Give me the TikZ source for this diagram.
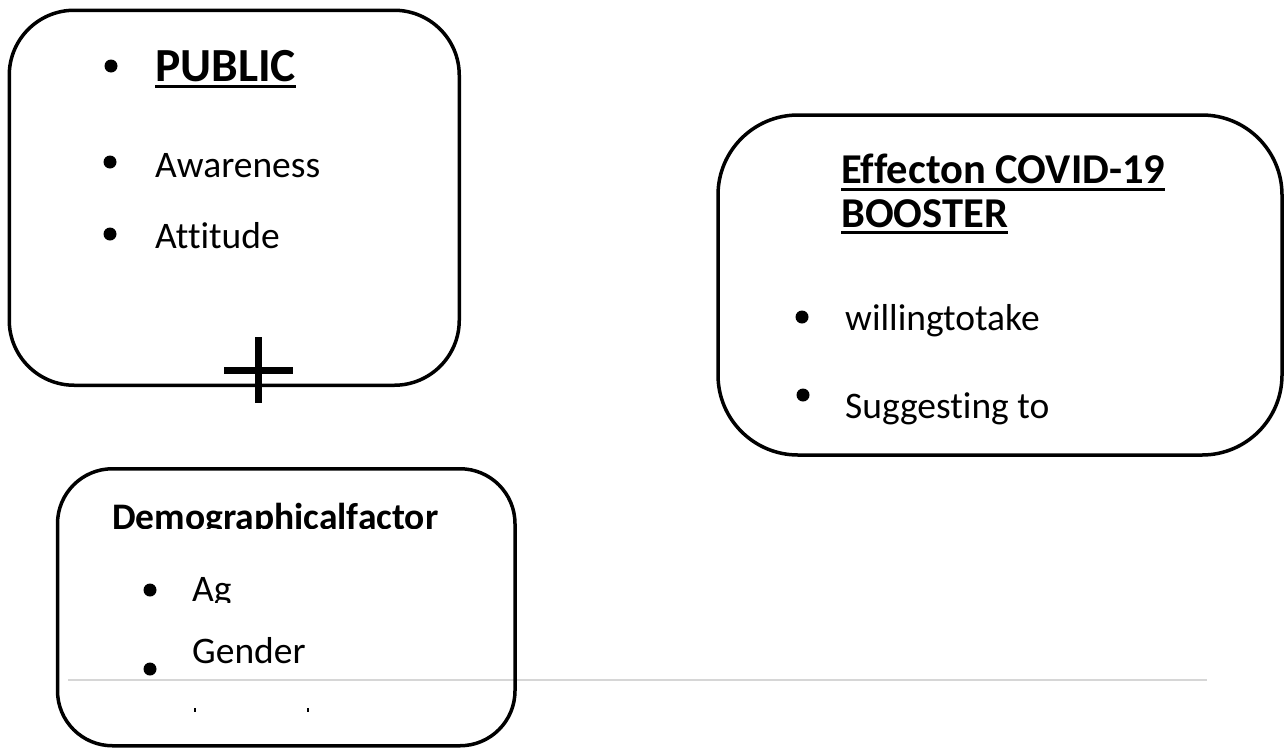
\documentclass[tikz,border=0pt]{standalone}
\usepackage{fontspec}
\setmainfont[Ligatures={NoCommon}]{Carlito}
\begin{document}
\begin{tikzpicture}[x=1pt,y=-1pt,
  box/.style={draw=black,line width=3.5pt,inner sep=0pt,fill=none},
  dot/.style={circle,fill=black,inner sep=0pt,minimum size=13pt},
  txt/.style={anchor=base west,inner sep=0pt,font=\fontsize{37.5}{40}\selectfont},
  hd/.style={anchor=base west,inner sep=0pt,font=\fontsize{42.5}{46}\selectfont\bfseries},
  uline/.style={line width=3pt}
]
\useasboundingbox (0,0) rectangle (1284,747);
% gray rule
\coordinate (gl) at (68,680);
\coordinate (gr) at (1207,680);
\draw[line width=2pt,color=black!16] (gl) -- (gr);

% Box 1: PUBLIC
\node[box,rounded corners=65pt,minimum width=450pt,minimum height=375pt] (pub) at (234.25,197.75) {};
\node[dot] (b1) at (111,66) {};
\node[anchor=base west,inner sep=0pt,font=\fontsize{47.5}{50}\selectfont\bfseries] (tpub) at (155,81) {PUBLIC};
\draw[uline] ([yshift=-5pt]tpub.base west) -- ([yshift=-5pt]tpub.base east);
\node[dot] (b2) at (110,162) {};
\node[txt] (taw) at (155,177) {Awareness};
\node[dot] (b3) at (110,234) {};
\node[txt] (tat) at (155,248) {Attitude};

% plus sign
\coordinate (pt) at (258,337);
\coordinate (pb) at (258,403);
\coordinate (pl) at (224,370);
\coordinate (pr) at (293,370);
\draw[line width=7pt] (pt) -- (pb);
\draw[line width=7pt] (pl) -- (pr);

% Box 2: Demographical factor
\node[box,rounded corners=55pt,minimum width=457.5pt,minimum height=277pt] (dem) at (286.25,607.25) {};
\begin{scope}
\clip (60,480) rectangle (512,528);
\node[anchor=base west,inner sep=0pt,font=\fontsize{37.5}{42}\selectfont\bfseries] (tdem) at (112,529) {Demographicalfactor};
\end{scope}
\node[dot] (b4) at (150,590) {};
\begin{scope}
\clip (180,560) rectangle (300,602);
\node[txt] (tag) at (192,601) {Ag};
\end{scope}
\node[dot] (b5) at (150,669) {};
\node[txt] (tge) at (192,663) {Gender};
\node[fill=black,inner sep=0pt,minimum width=2.5pt,minimum height=4pt] (d1) at (195,710) {};
\node[fill=black,inner sep=0pt,minimum width=2.5pt,minimum height=4pt] (d2) at (308,710) {};

% Box 3: Effect on COVID-19 booster
\node[box,rounded corners=80pt,minimum width=564pt,minimum height=340pt] (eff) at (1000,285) {};
\node[hd] (te1) at (841,183) {Effecton COVID-19};
\draw[uline] ([yshift=-6pt]te1.base west) -- ([yshift=-6pt]te1.base east);
\node[hd] (te2) at (841,227) {BOOSTER};
\draw[uline] ([yshift=-5pt]te2.base west) -- ([yshift=-5pt]te2.base east);
\node[dot] (b6) at (802,317) {};
\node[txt] (tw) at (845,330) {willingtotake};
\node[dot] (b7) at (803,395) {};
\node[txt] (ts) at (845,418) {Suggesting to};
\end{tikzpicture}
\end{document}
